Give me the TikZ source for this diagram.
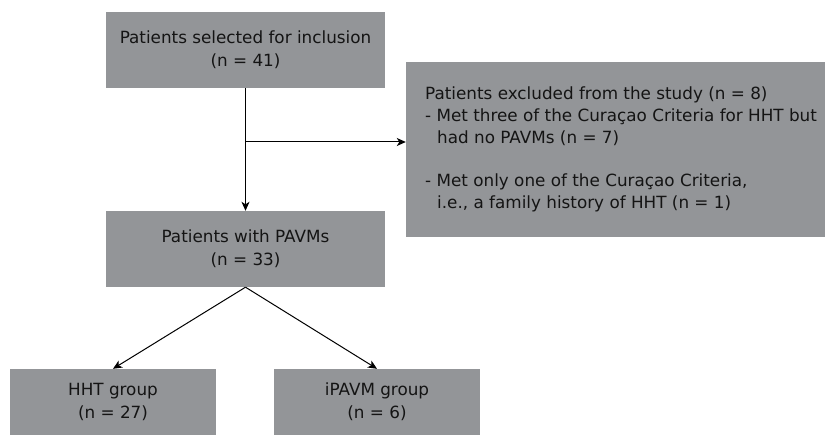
\documentclass[tikz,border=0pt]{standalone}
\usepackage{fontspec}
\setmainfont{DejaVu Sans}
\usetikzlibrary{arrows.meta}
\definecolor{boxgray}{RGB}{147,149,152}
\definecolor{txt}{RGB}{20,20,20}
\tikzset{
  gbox/.style={fill=boxgray, draw=none, text=txt, align=center, inner sep=0pt,
    font=\fontsize{16.8}{23}\selectfont},
  conn/.style={draw=black, line width=1pt, -{Stealth[length=9pt,width=8pt,inset=2.5pt]}},
}
\begin{document}
\begin{tikzpicture}[x=1pt,y=-1pt]
\useasboundingbox (0,0) rectangle (825,435);
\node[gbox, minimum width=279pt, minimum height=76pt] (sel) at (245.5,50) {Patients selected for inclusion\\(n = 41)};
\node[gbox, minimum width=419pt, minimum height=175pt] (exc) at (615.5,149.5) {};
\node[text=txt, align=left, anchor=north west, inner sep=0pt, font=\fontsize{16.8}{21.7}\selectfont] (exctext) at (425,87)
  {Patients excluded from the study (n = 8)\\
   - Met three of the Curaçao Criteria for HHT but\\
   \hspace*{12pt}had no PAVMs (n = 7)\\[21.7pt]
   - Met only one of the Curaçao Criteria,\\
   \hspace*{12pt}i.e., a family history of HHT (n = 1)};
\node[gbox, minimum width=279pt, minimum height=76pt] (pav) at (245.5,249) {Patients with PAVMs\\(n = 33)};
\node[gbox, minimum width=206pt, minimum height=66pt] (hht) at (113,402) {HHT group\\(n = 27)};
\node[gbox, minimum width=206pt, minimum height=66pt] (ipa) at (377,402) {iPAVM group\\(n = 6)};
\coordinate (br) at (245.5,142);
\draw[conn] (sel.south) -- (pav.north);
\draw[conn] (br) -- (exc.west |- br);
\draw[conn] (pav.south) -- (hht.north);
\draw[conn] (pav.south) -- (ipa.north);
\end{tikzpicture}
\end{document}
